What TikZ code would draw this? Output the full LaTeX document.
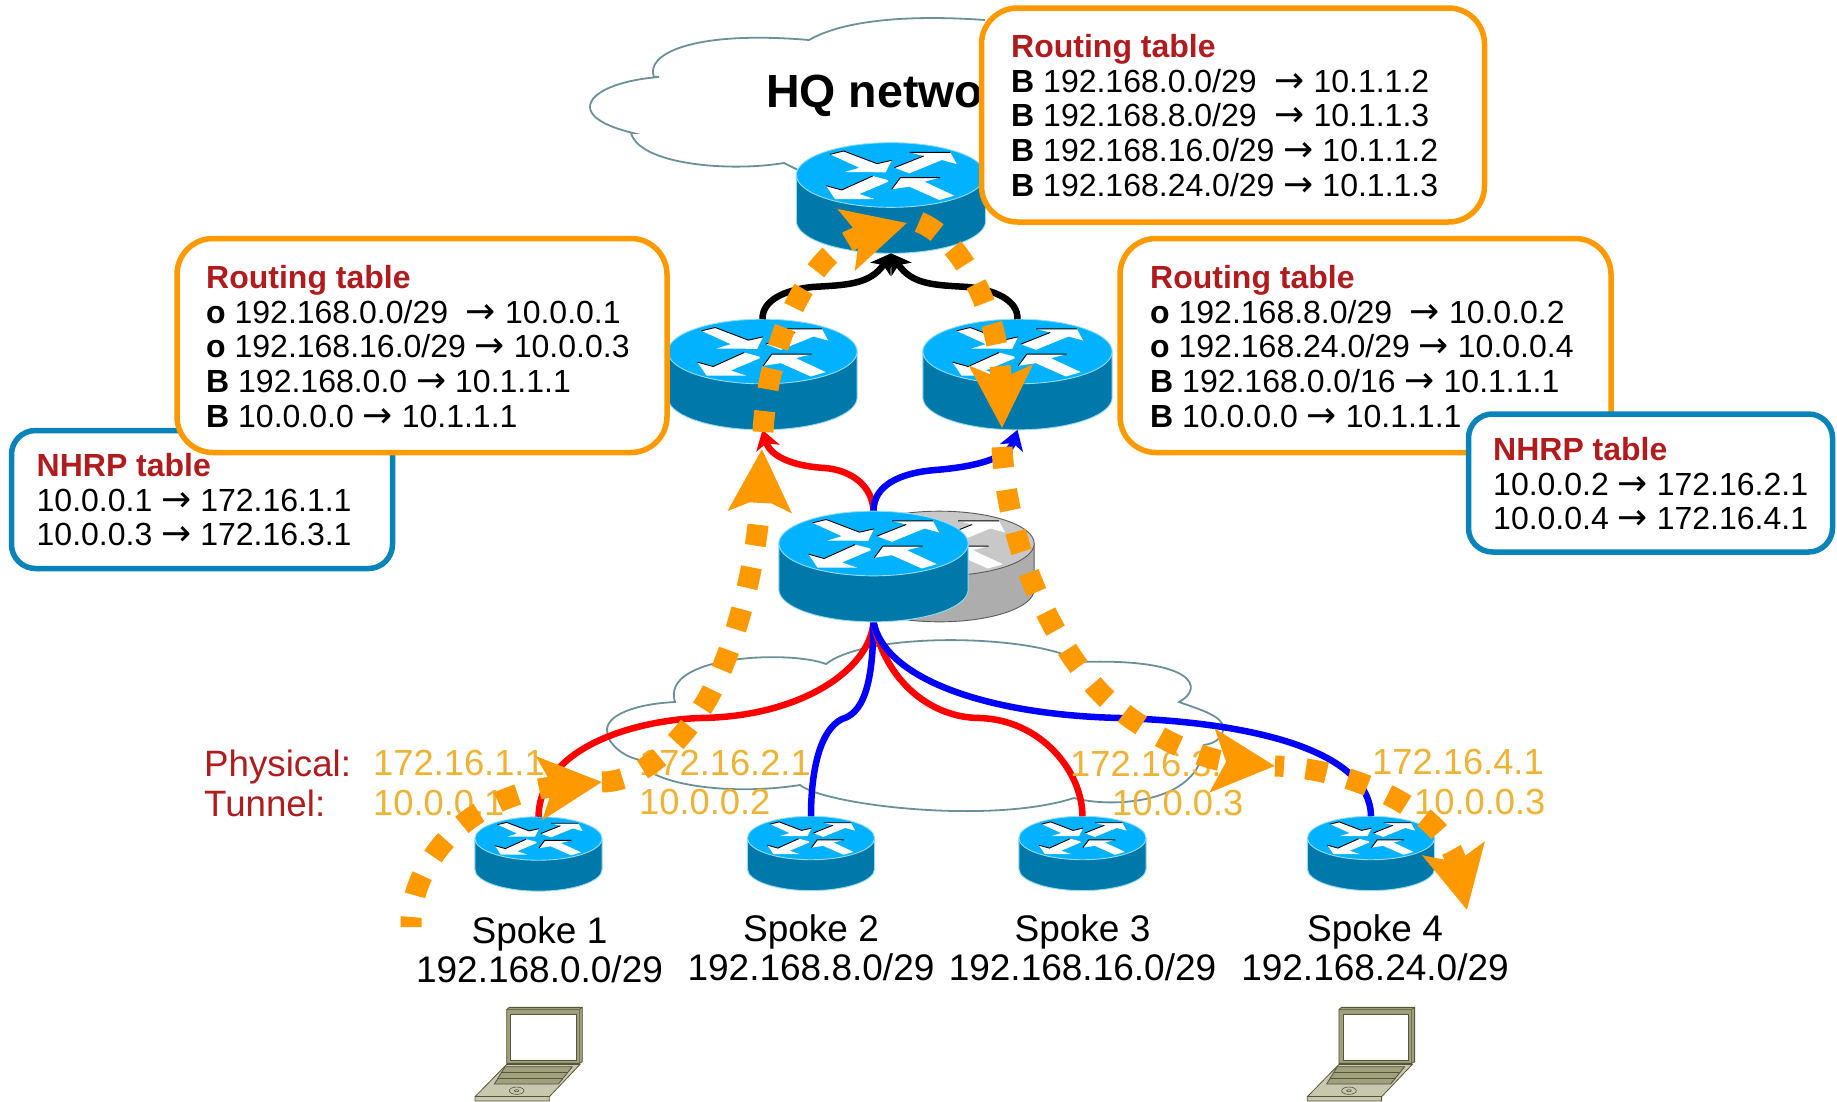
\documentclass[tikz,border=0pt]{standalone}
\usepackage{fontspec}
\setmainfont{Liberation Sans}
\newfontfamily\arrowfont{DejaVu Sans}
\usetikzlibrary{arrows.meta}
\definecolor{ciscoTop}{RGB}{0,178,255}
\definecolor{ciscoSide}{RGB}{0,120,170}
\definecolor{ciscoEdge}{RGB}{150,220,242}
\definecolor{grayTop}{RGB}{200,200,200}
\definecolor{graySide}{RGB}{173,173,173}
\definecolor{grayEdge}{RGB}{90,90,90}
\definecolor{pathOrange}{RGB}{255,153,0}
\definecolor{nhrpBlue}{RGB}{8,132,186}
\definecolor{titleRed}{RGB}{176,28,30}
\definecolor{ipGold}{RGB}{238,178,52}
\definecolor{cloudLine}{RGB}{108,144,152}
\definecolor{lapBody}{RGB}{160,160,125}
\definecolor{lapDark}{RGB}{85,85,60}
\definecolor{lapBase}{RGB}{200,200,175}
\tikzset{
  x=1pt,y=-1pt,
  pics/router/.style n args={4}{code={
    \begin{scope}[scale=#4]
      \fill[#2] (-284,0) -- (-284,138) .. controls (-284,191.6) and (-157,235) .. (0,235) .. controls (157,235) and (284,191.6) .. (284,138) -- (284,0) -- cycle;
      \draw[#3,line width=0.9pt] (-284,0) -- (-284,138) .. controls (-284,191.6) and (-157,235) .. (0,235) .. controls (157,235) and (284,191.6) .. (284,138) -- (284,0);
      \draw[#3,fill=#1,line width=0.9pt] (0,0) ellipse [x radius=284,y radius=97];
      \fill[white] (-183,-62) -- (-142,-72) -- (-42,-34) -- (2,-44) -- (-16,-8) -- (-138,-9) -- (-95,-22) -- cycle;
      \fill[white] (10,-22) -- (98,-57) -- (56,-68) -- (178,-68) -- (197,-33) -- (153,-45) -- (55,-5) -- cycle;
      \fill[white] (-10,15) -- (-55,3) -- (-148,45) -- (-195,32) -- (-168,72) -- (-50,72) -- (-95,57) -- (-8,20) -- cycle;
      \fill[white] (2,43) -- (28,8) -- (147,8) -- (100,20) -- (190,62) -- (145,75) -- (55,35) -- cycle;
      \draw[black,line width=0.9pt] (-183,-62) -- (-142,-72) -- (-42,-34) -- (2,-44);
      \draw[black,line width=0.9pt] (10,-22) -- (98,-57) (56,-68) -- (178,-68);
      \draw[black,line width=0.9pt] (-55,3) -- (-148,45) -- (-195,32);
      \draw[black,line width=0.9pt] (2,43) -- (28,8) -- (147,8);
      \coordinate (-top) at (0,-97);
      \coordinate (-bottom) at (0,235);
    \end{scope}
  }},
  pics/laptop/.style={code={
    \begin{scope}[scale=0.33333]
      \draw[lapDark,fill=lapBase,line width=0.8pt] (0,165) -- (95,68) -- (315,68) -- (223,165) -- (223,178) -- (0,178) -- cycle;
      \draw[lapDark,line width=0.8pt] (0,165) -- (223,165);
      \draw[lapDark,fill=lapBody,line width=0.8pt] (90,75) -- (292,75) -- (250,127) -- (58,127) -- cycle;
      \draw[lapDark,line width=0.8pt] (79,92) -- (278,92) (68,110) -- (265,110);
      \draw[lapDark,line width=0.6pt] (125,147) ellipse [x radius=22,y radius=11];
      \draw[lapDark,line width=0.6pt] (125,147) ellipse [x radius=7,y radius=3];
      \draw[lapDark,fill=lapBody,line width=0.8pt] (95,-97) -- (103,-103) -- (322,-103) -- (322,60) -- (313,65) -- (95,65) -- cycle;
      \draw[lapDark,line width=0.6pt] (95,-97) -- (313,-97) -- (313,65) (313,-97) -- (322,-103);
      \draw[lapDark,fill=white,line width=0.8pt] (107,-82) -- (303,-82) -- (303,55) -- (107,55) -- cycle;
    \end{scope}
  }},
  cloudstroke/.style={draw=cloudLine,line width=1.8pt},
  redlink/.style={draw=red,line width=6.5pt},
  bluelink/.style={draw=blue,line width=6.5pt},
  blacklink/.style={draw=black,line width=6.5pt},
  smalltip/.style={-{Stealth[length=19pt,width=24pt,inset=5pt]}},
  tunnel/.style={draw=pathOrange,line width=21pt,dash pattern=on 21pt off 22pt},
  bigtip/.style={-{Stealth[length=62pt,width=62pt,inset=13pt]}},
  routebox/.style={draw=pathOrange,line width=5.5pt,fill=white,rounded corners=36pt,inner sep=0pt},
  nhrpbox/.style={draw=nhrpBlue,line width=5.5pt,fill=white,rounded corners=24pt,inner sep=0pt},
  tabletext/.style={anchor=north west,inner sep=0pt,align=left,font=\fontsize{32}{34.7}\selectfont},
  iplabel/.style={anchor=base west,inner sep=0pt,text=ipGold,font=\fontsize{36.3}{40}\selectfont},
  keylabel/.style={anchor=base west,inner sep=0pt,text=titleRed,font=\fontsize{36.7}{40}\selectfont},
  spokelabel/.style={anchor=north,inner sep=0pt,align=center,font=\fontsize{37}{39.5}\selectfont},
}
\newcommand{\ttl}[1]{{\color{titleRed}\bfseries #1}}
\newcommand{\ar}{{\fontsize{36}{34.7}\arrowfont →}}
\begin{document}
\begin{tikzpicture}
\useasboundingbox (0,0) rectangle (1837,1101);
\fill[white] (0,0) rectangle (1837,1101);

% clouds
\draw[cloudstroke] (798,170) -- (784,163) .. controls (730,172) and (640,165) .. (631,133)
  -- (633,133) .. controls (600,125) and (590,115) .. (590,107) .. controls (590,92) and (620,80) .. (659,77)
  -- (654,77) .. controls (645,55) and (690,30) .. (809,40)
  .. controls (840,22) and (900,14) .. (985,20);
\draw[cloudstroke] (675,702) .. controls (635,704) and (607,715) .. (607,730) .. controls (607,745) and (625,757) .. (640,760)
  -- (638,760) .. controls (650,785) and (730,796) .. (800,785)
  .. controls (825,805) and (990,825) .. (1074,798)
  .. controls (1110,808) and (1200,805) .. (1204,745)
  .. controls (1218,743) and (1224,735) .. (1223,727) .. controls (1222,715) and (1195,708) .. (1179,702)
  .. controls (1205,688) and (1195,658) .. (1080,662)
  .. controls (1040,635) and (870,630) .. (826,664)
  .. controls (790,650) and (660,655) .. (675,702) -- cycle;

% HQ label
\node (hqlabel) [anchor=base west,inner sep=0pt,font=\fontsize{46.5}{50}\selectfont\bfseries] at (766,107) {HQ network};

% routers
\pic (hq) at (891,175) {router={ciscoTop}{ciscoSide}{ciscoEdge}{0.33333}};
\pic (rl) at (762.5,351.5) {router={ciscoTop}{ciscoSide}{ciscoEdge}{0.33333}};
\pic (rr) at (1017.5,351.5) {router={ciscoTop}{ciscoSide}{ciscoEdge}{0.33333}};
\pic (sp1) at (538.5,838.5) {router={ciscoTop}{ciscoSide}{ciscoEdge}{0.2239}};
\pic (sp2) at (811,838) {router={ciscoTop}{ciscoSide}{ciscoEdge}{0.2239}};
\pic (sp3) at (1082.5,838) {router={ciscoTop}{ciscoSide}{ciscoEdge}{0.2239}};
\pic (sp4) at (1371,838) {router={ciscoTop}{ciscoSide}{ciscoEdge}{0.2239}};
\pic (hubb) at (939.5,543.5) {router={grayTop}{graySide}{grayEdge}{0.33333}};

% connectors
\draw[blacklink,smalltip] (rl-top) .. controls (762,300) and (785,290) .. (812,287) .. controls (845,285) and (870,285) .. (hq-bottom);
\draw[blacklink,smalltip] (rr-top) .. controls (1018,300) and (995,290) .. (968,287) .. controls (935,285) and (912,285) .. (hq-bottom);
\coordinate (hubtop) at (873.5,512);
\coordinate (hubbot) at (873.5,622);
\draw[redlink,smalltip] (hubtop) .. controls (873,485) and (850,470) .. (825,468) .. controls (790,466) and (770,455) .. (rl-bottom);
\draw[bluelink,smalltip] (hubtop) .. controls (873,485) and (900,473) .. (935,470) .. controls (975,467) and (1008,458) .. (rr-bottom);
\draw[redlink] (hubbot) .. controls (870,670) and (800,717) .. (700,718) .. controls (640,720) and (540,745) .. (sp1-top);
\draw[bluelink] (hubbot) .. controls (873,670) and (868,712) .. (842,719) .. controls (820,730) and (811,770) .. (sp2-top);
\draw[redlink] (hubbot) .. controls (885,680) and (930,718) .. (980,718) .. controls (1040,720) and (1082,770) .. (sp3-top);
\draw[bluelink] (hubbot) .. controls (885,680) and (990,715) .. (1120,718) .. controls (1250,722) and (1370,750) .. (sp4-top);

% hub router over its connectors
\pic (hub) at (873.5,543.5) {router={ciscoTop}{ciscoSide}{ciscoEdge}{0.33333}};

% laptops
\pic (lap1) at (475,1041.7) {laptop};
\pic (lap4) at (1307.3,1041.7) {laptop};

% spoke labels
\node (lblA) [spokelabel] at (539.5,916) {Spoke 1\\192.168.0.0/29};
\node (lblB) [spokelabel] at (811,914) {Spoke 2\\192.168.8.0/29};
\node (lblC) [spokelabel] at (1082.5,914) {Spoke 3\\192.168.16.0/29};
\node (lblD) [spokelabel] at (1375,914) {Spoke 4\\192.168.24.0/29};

% address labels
\node (kp) [keylabel] at (204,776) {Physical:};
\node (kt) [keylabel] at (204,816) {Tunnel:};
\node (ip1a) [iplabel] at (373,775) {172.16.1.1};
\node (ip1b) [iplabel] at (373,815) {10.0.0.1};
\node (ip2a) [iplabel] at (639,775) {172.16.2.1};
\node (ip2b) [iplabel] at (639,814) {10.0.0.2};
\node (ip3a) [iplabel] at (1070,776) {172.16.3.1};
\node (ip3b) [iplabel] at (1112,815) {10.0.0.3};
\node (ip4a) [iplabel] at (1372,774) {172.16.4.1};
\node (ip4b) [iplabel] at (1414,814) {10.0.0.3};

% orange traffic path
\coordinate (o0) at (411,927);
\coordinate (o1) at (602,782);
\coordinate (o2) at (762,449);
\coordinate (o3) at (907,223);
\coordinate (o4) at (1002,428);
\coordinate (o5) at (1275,766);
\coordinate (o6) at (1467,910);
\draw[tunnel,dash phase=11pt,bigtip] (o0) .. controls (410,860) and (470,795) .. (o1);
\draw[tunnel,bigtip] (o1) .. controls (640,782) and (680,745) .. (707,700) .. controls (735,650) and (758,560) .. (o2);
\draw[tunnel,bigtip] (763,432) .. controls (768,340) and (810,250) .. (o3);
\draw[tunnel,bigtip] (919,222) .. controls (965,240) and (1000,320) .. (o4);
\draw[tunnel,bigtip] (1002,447) .. controls (1006,530) and (1040,625) .. (1097,689) .. controls (1140,735) and (1205,760) .. (o5);
\draw[tunnel,dash phase=12pt,bigtip] (o5) .. controls (1350,768) and (1445,810) .. (o6);

% tables
\node (nhrpL) [nhrpbox,minimum width=381pt,minimum height=138pt] at (202,499.5) {};
\node (nhrpLt) [tabletext] at (36.5,453) {\ttl{NHRP table}\\10.0.0.1 \ar{} 172.16.1.1\\10.0.0.3 \ar{} 172.16.3.1};
\node (routeL) [routebox,minimum width=490pt,minimum height=214pt] at (422,345.5) {};
\node (routeLt) [tabletext] at (206,265) {\ttl{Routing table}\\\textbf{o} 192.168.0.0/29\ \ \ar{} 10.0.0.1\\\textbf{o} 192.168.16.0/29 \ar{} 10.0.0.3\\\textbf{B} 192.168.0.0 \ar{} 10.1.1.1\\\textbf{B} 10.0.0.0 \ar{} 10.1.1.1};
\node (routeR) [routebox,minimum width=491pt,minimum height=214pt] at (1365.5,345.5) {};
\node (routeRt) [tabletext] at (1150,265) {\ttl{Routing table}\\\textbf{o} 192.168.8.0/29\ \ \ar{} 10.0.0.2\\\textbf{o} 192.168.24.0/29 \ar{} 10.0.0.4\\\textbf{B} 192.168.0.0/16 \ar{} 10.1.1.1\\\textbf{B} 10.0.0.0 \ar{} 10.1.1.1};
\node (nhrpR) [nhrpbox,minimum width=364pt,minimum height=138pt] at (1650.5,483) {};
\node (nhrpRt) [tabletext] at (1493,437) {\ttl{NHRP table}\\10.0.0.2 \ar{} 172.16.2.1\\10.0.0.4 \ar{} 172.16.4.1};
\node (routeT) [routebox,minimum width=503pt,minimum height=214pt] at (1233,115) {};
\node (routeTt) [tabletext] at (1011,34) {\ttl{Routing table}\\\textbf{B} 192.168.0.0/29\ \ \ar{} 10.1.1.2\\\textbf{B} 192.168.8.0/29\ \ \ar{} 10.1.1.3\\\textbf{B} 192.168.16.0/29 \ar{} 10.1.1.2\\\textbf{B} 192.168.24.0/29 \ar{} 10.1.1.3};
\end{tikzpicture}
\end{document}
